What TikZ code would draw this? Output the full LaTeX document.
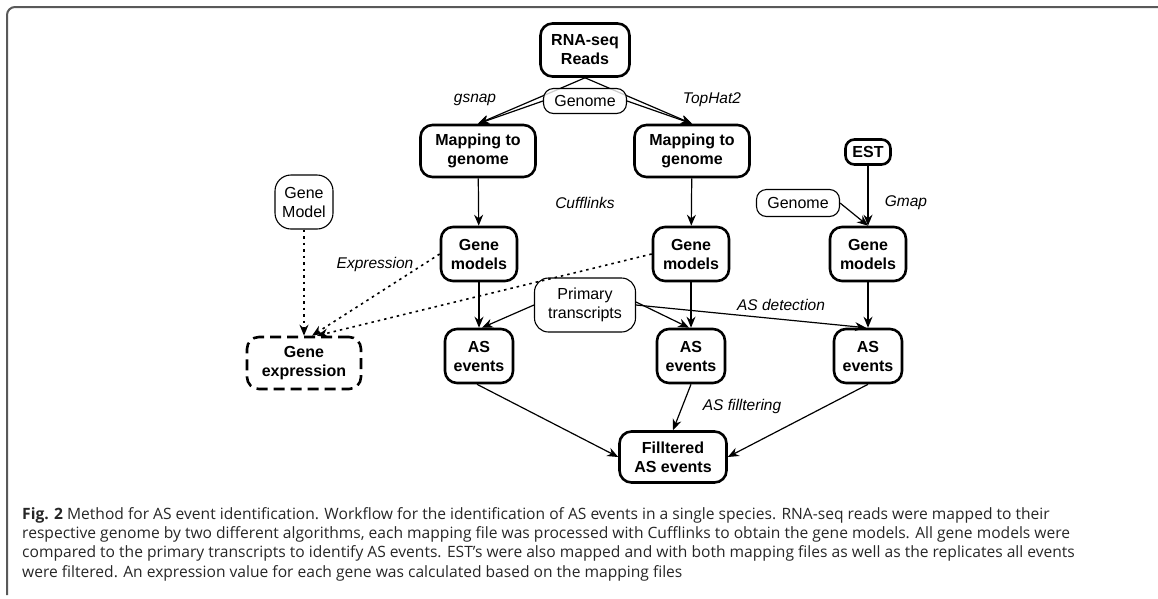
\documentclass[tikz,border=0pt]{standalone}
\usepackage{fontspec}
\setmainfont{Liberation Sans}
\newfontfamily\capfont{Open Sans}
\usetikzlibrary{arrows.meta}
\tikzset{
  thickbox/.style={draw=black, line width=2.6pt, rounded corners=12pt, align=center, inner sep=0pt,
     font=\bfseries\fontsize{16}{19}\selectfont},
  thinbox/.style={draw=black, line width=1.1pt, rounded corners=10pt, align=center, inner sep=0pt,
     font=\fontsize{16}{19}\selectfont},
  dashbox/.style={thickbox, dash pattern=on 11pt off 6pt},
  lbl/.style={font=\itshape\fontsize{15.5}{18}\selectfont, inner sep=0pt},
  arr/.style={line width=1.2pt, -{Stealth[length=11pt,width=9pt]}},
  dotarr/.style={line width=1.6pt, dash pattern=on 2.5pt off 4pt, -{Stealth[length=11pt,width=9pt]}},
  capline/.style={anchor=base west, inner sep=0pt, text=black!85, font=\capfont\fontsize{15.6}{19}\selectfont}
}
\begin{document}
\begin{tikzpicture}[x=1pt,y=-1pt]
\useasboundingbox (0,0) rectangle (1158,598);
% frame
\draw[line width=2pt, draw=black!65, rounded corners=8pt] (7,595) -- (7,7) -- (1158,7);

% nodes
\node[thickbox, minimum width=89pt, minimum height=53pt] (rna) at (585,50) {RNA-seq\\Reads};
\node[thickbox, minimum width=115pt, minimum height=52pt] (map1) at (478,151) {Mapping to\\genome};
\node[thickbox, minimum width=115pt, minimum height=52pt] (map2) at (692,151) {Mapping to\\genome};
\node[thickbox, minimum width=45pt, minimum height=25pt, rounded corners=9pt] (est) at (868,152) {EST};
\node[thinbox, minimum width=83pt, minimum height=27pt] (gen2) at (798,203) {Genome};
\node[thickbox, minimum width=76pt, minimum height=54pt] (gm1) at (479,254) {Gene\\models};
\node[thickbox, minimum width=76pt, minimum height=54pt] (gm2) at (691,254) {Gene\\models};
\node[thickbox, minimum width=76pt, minimum height=54pt] (gm3) at (868,254) {Gene\\models};
\node[thinbox, minimum width=58pt, minimum height=54pt, rounded corners=16pt] (gmod) at (304,202) {Gene\\Model};
\node[dashbox, minimum width=114pt, minimum height=52pt] (gexp) at (304,363) {Gene\\expression};
\node[thinbox, minimum width=101pt, minimum height=54pt, rounded corners=14pt] (prim) at (585,305) {Primary\\transcripts};
\node[thickbox, minimum width=68pt, minimum height=54pt] (as1) at (479,356) {AS\\events};
\node[thickbox, minimum width=68pt, minimum height=54pt] (as2) at (691,356) {AS\\events};
\node[thickbox, minimum width=68pt, minimum height=54pt] (as3) at (868,356) {AS\\events};
\node[thickbox, minimum width=107pt, minimum height=51pt] (filt) at (673,457) {Filltered\\AS events};

% mapping edges (double-line look)
\draw[arr] (rna.south) -- (map1.north);
\draw[arr] (rna.south) -- (map2.north);
\node[thinbox, minimum width=83pt, minimum height=25pt, fill=white, fill opacity=0.8, text opacity=1, draw opacity=1] (gen1) at (585,101) {Genome};
\draw[arr] (gen1.west) -- (map1.north);
\draw[arr] (gen1.east) -- (map2.north);

% vertical edges
\draw[arr] (map1) -- (gm1);
\draw[arr] (map2) -- (gm2);
\draw[arr] (est) -- (gm3);
\draw[arr] (gen2.east) -- (gm3.north);
\draw[arr] (gm1) -- (as1);
\draw[arr] (gm2) -- (as2);
\draw[arr] (gm3) -- (as3);

% primary transcripts
\draw[arr] (prim.west) -- ([xshift=3pt]as1.north);
\draw[arr] ([yshift=3pt]prim.east) -- ([xshift=-2pt]as2.north);
\draw[arr] (prim.east) -- ([xshift=-2pt]as3.north);

% filtering
\draw[arr] ([xshift=-2pt]as1.south) -- (filt.west);
\draw[arr] (as2.south) -- (filt.north);
\draw[arr] (as3.south) -- (filt.east);

% expression (dotted)
\draw[dotarr] (gmod.south) -- (gexp.north);
\draw[dotarr] (gm1.west) -- ([xshift=8pt]gexp.north);
\draw[dotarr] (gm2.west) -- ([xshift=13pt]gexp.north);

% labels
\node[lbl] (l1) at (475,100) {gsnap};
\node[lbl] (l2) at (712,100) {TopHat2};
\node[lbl] (l3) at (585,203) {Cufflinks};
\node[lbl] (l4) at (906,203) {Gmap};
\node[lbl] (l5) at (375,264) {Expression};
\node[lbl] (l6) at (781,305) {AS detection};
\node[lbl] (l7) at (742,406) {AS filltering};

% caption
\node[capline] (c1) at (22,519) {\textbf{Fig. 2} Method for AS event identification. Workflow for the identification of AS events in a single species. RNA-seq reads were mapped to their};
\node[capline] (c2) at (22,538) {respective genome by two different algorithms, each mapping file was processed with Cufflinks to obtain the gene models. All gene models were};
\node[capline] (c3) at (22,557) {compared to the primary transcripts to identify AS events. EST’s were also mapped and with both mapping files as well as the replicates all events};
\node[capline] (c4) at (22,577) {were filtered. An expression value for each gene was calculated based on the mapping files};
\end{tikzpicture}
\end{document}
